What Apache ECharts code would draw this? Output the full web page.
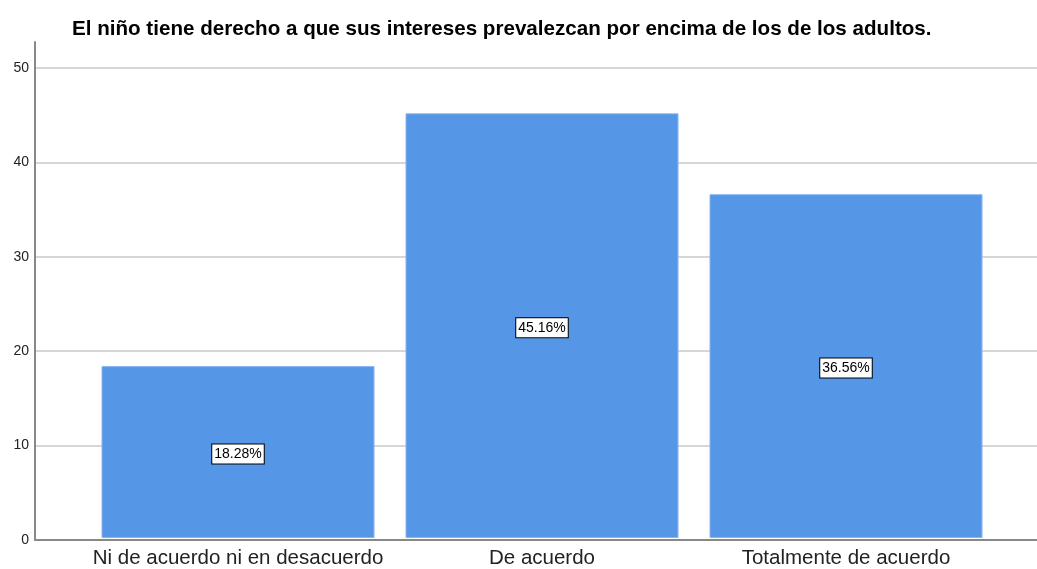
<!DOCTYPE html>
<html><head><meta charset="utf-8">
<script src="https://cdn.jsdelivr.net/npm/echarts@6/dist/echarts.min.js"></script>
<style>html,body{margin:0;padding:0;background:#fff}#c{width:1037px;height:569px}</style>
</head><body><div id="c"></div>
<script>
var titleText = 'El niño tiene derecho a que sus intereses prevalezcan por encima de los de los adultos.';
var categories = ['Ni de acuerdo ni en desacuerdo', 'De acuerdo', 'Totalmente de acuerdo'];
var percents = [18.28, 45.16, 36.56];
var yTicks = [0, 10, 20, 30, 40, 50];

var chart = echarts.init(document.getElementById('c'), null, {renderer: 'canvas'});
var font = '"Liberation Sans", Arial, sans-serif';
var yMax = 52.75;
chart.setOption({
  animation: false,
  title: {
    text: titleText, left: 67, top: 14,
    textStyle: {fontFamily: font, fontSize: 20.6, fontWeight: 'bold', color: '#000'}
  },
  grid: [
    {left: 35, right: 0, top: 42, bottom: 29},
    {left: 86, right: 39, top: 42, bottom: 29}
  ],
  xAxis: [
    {type: 'value', gridIndex: 0, min: 0, max: 1, show: true,
     axisLine: {show: true, lineStyle: {color: '#888', width: 2}},
     axisTick: {show: false}, axisLabel: {show: false}, splitLine: {show: false}},
    {type: 'category', gridIndex: 1, data: categories,
     axisLine: {show: false}, axisTick: {show: false},
     axisLabel: {interval: 0, fontFamily: font, fontSize: 20.5, color: '#222', margin: 10}}
  ],
  yAxis: [
    {type: 'value', gridIndex: 0, min: 0, max: yMax, interval: 10,
     axisLine: {show: true, lineStyle: {color: '#888', width: 2}},
     axisTick: {show: false},
     axisLabel: {fontFamily: font, fontSize: 14, color: '#222', margin: 6,
       formatter: function (v) { return yTicks.indexOf(v) >= 0 ? String(v) : ''; }},
     splitLine: {show: true, lineStyle: {color: ['#d6d6d6','#d6d6d6','#d6d6d6','#d6d6d6','#d6d6d6','#d6d6d6','rgba(0,0,0,0)'], width: 2}}},
    {type: 'value', gridIndex: 1, min: 0, max: yMax, show: false}
  ],
  series: [{
    type: 'bar', xAxisIndex: 1, yAxisIndex: 1,
    data: percents, barWidth: 273,
    itemStyle: {color: '#5596e6', borderColor: '#86b6f0', borderWidth: 1},
    label: {
      show: true, position: 'inside', offset: [0, 2],
      formatter: function (p) { return p.value.toFixed(2) + '%'; },
      fontFamily: font, fontSize: 14, color: '#000',
      backgroundColor: '#fff', borderColor: '#000', borderWidth: 1,
      padding: [3, 2, 2, 2]
    }
  }]
});
</script></body></html>
